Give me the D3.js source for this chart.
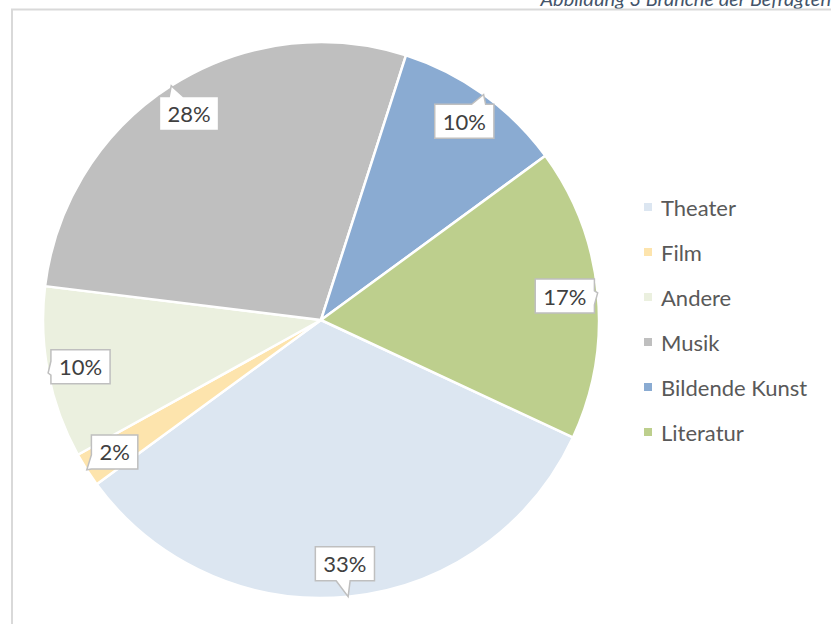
<!DOCTYPE html>
<html>
<head>
<meta charset="utf-8">
<script src="https://cdn.jsdelivr.net/npm/d3@7/dist/d3.min.js"></script>
<style>
  html, body { margin: 0; padding: 0; background: #fff; }
  svg { display: block; }
</style>
</head>
<body>
<svg id="chart" width="831" height="624"></svg>
<script>
// Branche der Befragten (Anteile in Prozent)
const categories = ["Theater", "Film", "Andere", "Musik", "Bildende Kunst", "Literatur"];
const shares = [33, 2, 10, 28, 10, 17];
const sliceColors = ["#dce6f1", "#fde4ad", "#ebf0df", "#bfbfbf", "#8aabd2", "#bdcf8d"];
const captionText = "Abbildung 3 Branche der Befragten";

const W = 831, H = 624;
const cx = 321, cy = 320, R = 278;
const firstSliceAngle = 115 * Math.PI / 180;
const fontFam = "Lato, 'Open Sans', sans-serif";

const svg = d3.select("#chart");

// caption above the frame (partly cut off at the top edge)
svg.append("text")
  .attr("x", 831).attr("y", 6)
  .attr("text-anchor", "end")
  .attr("font-family", fontFam)
  .attr("font-style", "italic")
  .attr("font-size", 20)
  .attr("fill", "#44546a")
  .text(captionText);

// chart frame
svg.append("rect")
  .attr("x", 12).attr("y", 9.5)
  .attr("width", 900).attr("height", 700)
  .attr("fill", "none")
  .attr("stroke", "#d9d9d9")
  .attr("stroke-width", 2);

const color = d3.scaleOrdinal().domain(categories).range(sliceColors);

const pie = d3.pie()
  .sort(null)
  .value(d => d.value)
  .startAngle(firstSliceAngle)
  .endAngle(firstSliceAngle + 2 * Math.PI);

const data = categories.map((c, i) => ({ name: c, value: shares[i] }));
const arcs = pie(data);

const arc = d3.arc().innerRadius(0).outerRadius(R);
const labelArc = d3.arc().innerRadius(245).outerRadius(245);
const tipArc = d3.arc().innerRadius(R).outerRadius(R);

const g = svg.append("g").attr("transform", `translate(${cx},${cy})`);

g.selectAll("path.slice")
  .data(arcs)
  .join("path")
  .attr("class", "slice")
  .attr("d", arc)
  .attr("fill", d => color(d.data.name))
  .attr("stroke", "#fff")
  .attr("stroke-width", 2.5)
  .attr("stroke-linejoin", "round");

// rectangle callout with a wedge pointing at (tx, ty)
function calloutPath(x0, y0, x1, y1, tx, ty) {
  const mx = (x0 + x1) / 2, my = (y0 + y1) / 2;
  const nx = (tx - mx) / ((x1 - x0) / 2), ny = (ty - my) / ((y1 - y0) / 2);
  let side;
  if (Math.abs(nx) > Math.abs(ny)) side = nx < 0 ? "left" : "right";
  else side = ny < 0 ? "top" : "bottom";
  const corners = [[x0, y0], [x1, y0], [x1, y1], [x0, y1]];
  const sides = ["top", "right", "bottom", "left"];
  const pts = [];
  const clamp = (v, a, b) => Math.max(a, Math.min(b, v));
  sides.forEach((s, i) => {
    pts.push(corners[i]);
    if (s !== side) return;
    const horizontal = (s === "top" || s === "bottom");
    const lo = horizontal ? x0 : y0, hi = horizontal ? x1 : y1;
    const t = clamp(horizontal ? tx : ty, lo + 2, hi - 2);
    const mid = (lo + hi) / 2;
    let b1 = t < mid ? t - 2 : t - 12;
    let b2 = t < mid ? t + 12 : t + 2;
    b1 = clamp(b1, lo, hi); b2 = clamp(b2, lo, hi);
    const increasing = (s === "top" || s === "right");
    const order = increasing ? [b1, b2] : [b2, b1];
    const edgeFixed = s === "top" ? y0 : s === "bottom" ? y1 : s === "left" ? x0 : x1;
    const pt = v => horizontal ? [v, edgeFixed] : [edgeFixed, v];
    pts.push(pt(order[0]), [tx, ty], pt(order[1]));
  });
  return "M" + pts.map(p => p.join(",")).join("L") + "Z";
}

const labels = g.selectAll("g.label")
  .data(arcs)
  .join("g")
  .attr("class", "label");

labels.each(function(d) {
  const sel = d3.select(this);
  const [lx, ly] = labelArc.centroid(d);
  const [tx, ty] = tipArc.centroid(d);
  const txt = sel.append("text")
    .attr("x", lx).attr("y", ly)
    .attr("text-anchor", "middle")
    .attr("dominant-baseline", "central")
    .attr("font-family", fontFam)
    .attr("font-size", 22)
    .attr("fill", "#404040")
    .text(d.data.value + "%");
  const tw = txt.node().getComputedTextLength();
  const bw = tw + 16, bh = 34;
  const x0 = lx - bw / 2, y0 = ly - bh / 2;
  sel.insert("path", "text")
    .attr("d", calloutPath(x0, y0, x0 + bw, y0 + bh, tx, ty))
    .attr("fill", "#fff")
    .attr("stroke", "#bfbfbf")
    .attr("stroke-width", 1.5)
    .attr("stroke-linejoin", "miter");
});

// legend
const legend = svg.append("g").attr("transform", "translate(644,207)");
const rows = legend.selectAll("g")
  .data(categories)
  .join("g")
  .attr("transform", (d, i) => `translate(0,${i * 45})`);
rows.append("rect")
  .attr("x", 0).attr("y", -4)
  .attr("width", 8).attr("height", 8)
  .attr("fill", d => color(d));
rows.append("text")
  .attr("x", 17).attr("y", 0)
  .attr("dominant-baseline", "central")
  .attr("font-family", fontFam)
  .attr("font-size", 22)
  .attr("fill", "#595959")
  .text(d => d);
</script>
</body>
</html>
